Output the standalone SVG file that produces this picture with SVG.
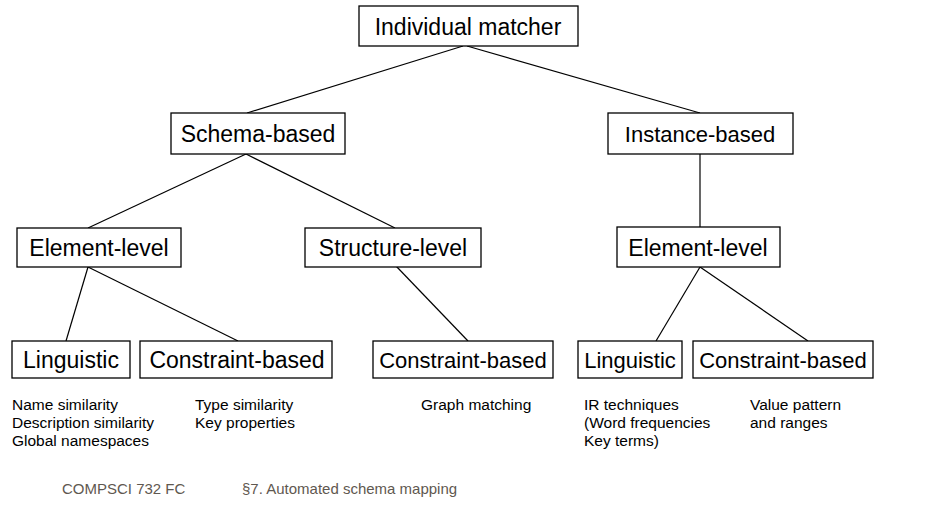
<svg xmlns="http://www.w3.org/2000/svg" width="945" height="514" viewBox="0 0 945 514">
<style>
.box{fill:#fff;stroke:#000;stroke-width:1.3}
.lbl{font-family:"Liberation Sans",Arial,sans-serif;font-size:23px;fill:#000;text-anchor:middle}
.sm{font-size:22px}
.note{font-family:"Liberation Sans",Arial,sans-serif;font-size:15.5px;fill:#000}
.foot{font-family:"Liberation Sans",Arial,sans-serif;font-size:15px;fill:#5f5850}
.edge{stroke:#000;stroke-width:1.2;fill:none}
</style>
<rect width="945" height="514" fill="#fff"/>
<g id="connectors">
<line class="edge" x1="463" y1="46" x2="247" y2="113"/>
<line class="edge" x1="467" y1="46" x2="700" y2="113"/>
<line class="edge" x1="246" y1="154" x2="88" y2="228"/>
<line class="edge" x1="246" y1="154" x2="395" y2="228"/>
<line class="edge" x1="700" y1="154" x2="700" y2="227"/>
<line class="edge" x1="88" y1="267" x2="66" y2="341"/>
<line class="edge" x1="88" y1="267" x2="238" y2="341"/>
<line class="edge" x1="396" y1="266" x2="468" y2="341"/>
<line class="edge" x1="700" y1="267" x2="656" y2="341"/>
<line class="edge" x1="700" y1="267" x2="808" y2="341"/>
</g>
<g id="individual-matcher"><rect class="box" x="359" y="6" width="219" height="40"/><text class="lbl" x="468" y="35">Individual matcher</text></g>
<g id="schema-based"><rect class="box" x="171" y="113" width="174" height="41"/><text class="lbl" x="258" y="142">Schema-based</text></g>
<g id="instance-based"><rect class="box" x="608" y="113" width="185" height="41"/><text class="lbl sm" x="700" y="142">Instance-based</text></g>
<g id="element-level-schema"><rect class="box" x="17" y="228" width="164" height="39"/><text class="lbl" x="99" y="256">Element-level</text></g>
<g id="structure-level"><rect class="box" x="305" y="228" width="176" height="39"/><text class="lbl" x="393" y="256">Structure-level</text></g>
<g id="element-level-instance"><rect class="box" x="617" y="227" width="163" height="40"/><text class="lbl" x="698" y="256">Element-level</text></g>
<g id="linguistic-schema"><rect class="box" x="12" y="341" width="118" height="37"/><text class="lbl" x="71" y="368">Linguistic</text></g>
<g id="constraint-schema-element"><rect class="box" x="140" y="341" width="192" height="37"/><text class="lbl" x="237" y="368">Constraint-based</text></g>
<g id="constraint-schema-structure"><rect class="box" x="373" y="341" width="180" height="37"/><text class="lbl sm" x="463" y="368">Constraint-based</text></g>
<g id="linguistic-instance"><rect class="box" x="578" y="341" width="104" height="37"/><text class="lbl sm" x="630" y="368">Linguistic</text></g>
<g id="constraint-instance"><rect class="box" x="693" y="341" width="180" height="37"/><text class="lbl sm" x="783" y="368">Constraint-based</text></g>
<g id="notes">
<text class="note" x="12" y="410">Name similarity</text>
<text class="note" x="12" y="428">Description similarity</text>
<text class="note" x="12" y="446">Global namespaces</text>
<text class="note" x="195" y="410">Type similarity</text>
<text class="note" x="195" y="428">Key properties</text>
<text class="note" x="421" y="410">Graph matching</text>
<text class="note" x="584" y="410">IR techniques</text>
<text class="note" x="584" y="428">(Word frequencies</text>
<text class="note" x="584" y="446">Key terms)</text>
<text class="note" x="750" y="410">Value pattern</text>
<text class="note" x="750" y="428">and ranges</text>
</g>
<g id="footer">
<text class="foot" x="62" y="494">COMPSCI 732 FC</text>
<text class="foot" x="242" y="494">§7. Automated schema mapping</text>
</g>
</svg>
